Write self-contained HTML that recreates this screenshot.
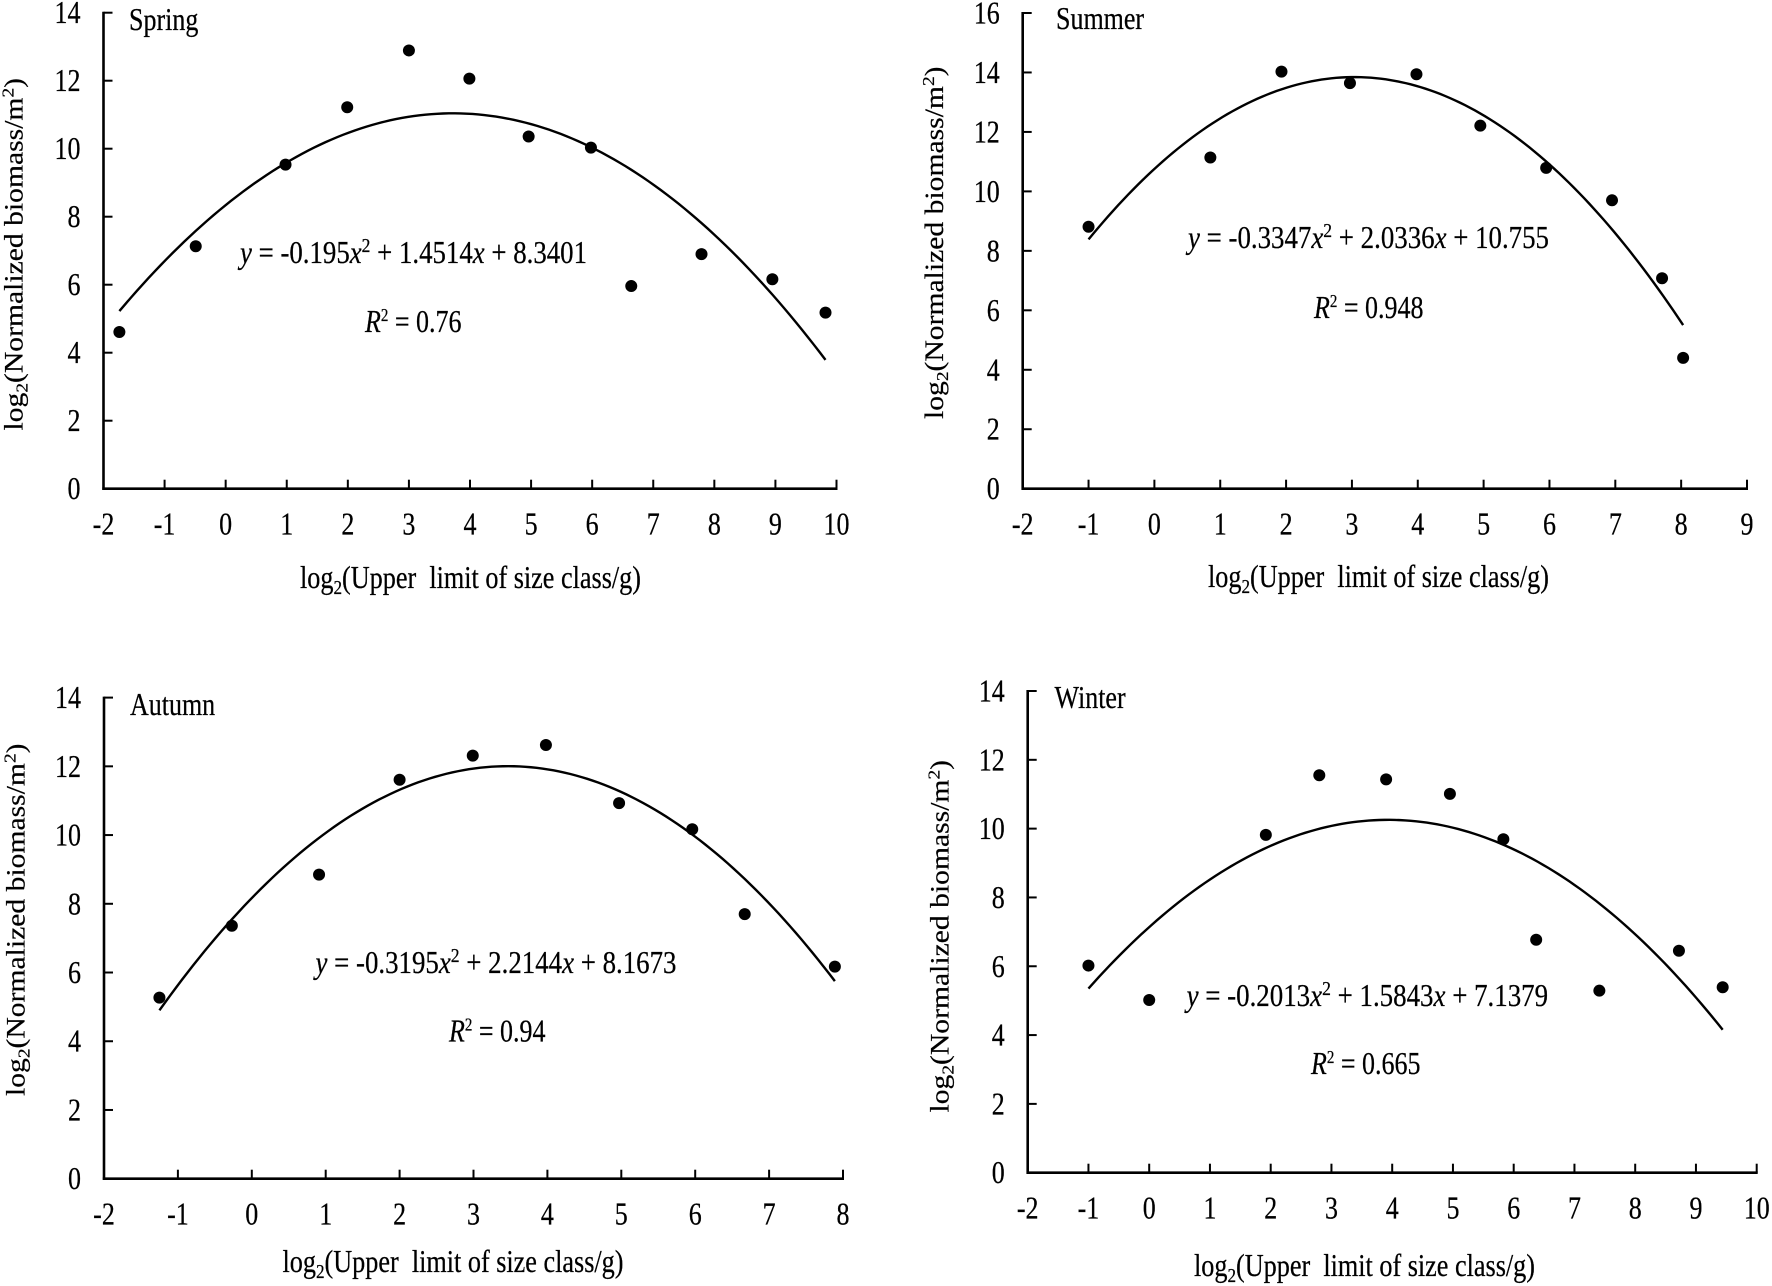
<!DOCTYPE html>
<html lang="en">
<head>
<meta charset="utf-8">
<title>Normalized biomass size spectra by season</title>
<style>
html,body{margin:0;padding:0;background:#fff;width:1772px;height:1286px;overflow:hidden}
svg{display:block}
text{font-family:"Liberation Serif","Times New Roman",serif;font-size:26px;fill:#000;stroke:#000;stroke-width:.2px}
.it{font-style:italic}
</style>
</head>
<body>
<svg id="figure" xmlns="http://www.w3.org/2000/svg" width="1772" height="1286" viewBox="0 0 1772 1286">
  <rect width="1772" height="1286" fill="#fff"/>

  <g id="spring">
    <text transform="translate(129,30) scale(1,1.2)">Spring</text>
    <text transform="translate(22.4,430.5) scale(1,1.14) rotate(-90)" xml:space="preserve">log<tspan font-size="17" dy="5">2</tspan><tspan dy="-5">(Normalized&#160;biomass/m</tspan><tspan font-size="17" dy="-9">2</tspan><tspan dy="9">)</tspan></text>
    <text transform="translate(300,588) scale(1,1.2)" xml:space="preserve" textLength="341" lengthAdjust="spacingAndGlyphs">log<tspan font-size="17" dy="5">2</tspan><tspan dy="-5">(Upper&#160; limit of size class/g)</tspan></text>
    <text transform="translate(240,263) scale(1,1.2)" textLength="347" lengthAdjust="spacingAndGlyphs"><tspan class="it">y</tspan> = -0.195<tspan class="it">x</tspan><tspan font-size="17" dy="-9">2</tspan><tspan dy="9"> + 1.4514</tspan><tspan class="it">x</tspan> + 8.3401</text>
    <text transform="translate(365,332) scale(1,1.2)"><tspan class="it">R</tspan><tspan font-size="15" dy="-9">2</tspan><tspan dy="9"> = 0.76</tspan></text>
  </g>

  <g id="summer">
    <text transform="translate(1056,29) scale(1,1.2)">Summer</text>
    <text transform="translate(943,419) scale(1,1.14) rotate(-90)" xml:space="preserve">log<tspan font-size="17" dy="5">2</tspan><tspan dy="-5">(Normalized&#160;biomass/m</tspan><tspan font-size="17" dy="-9">2</tspan><tspan dy="9">)</tspan></text>
    <text transform="translate(1208,587) scale(1,1.2)" xml:space="preserve" textLength="341" lengthAdjust="spacingAndGlyphs">log<tspan font-size="17" dy="5">2</tspan><tspan dy="-5">(Upper&#160; limit of size class/g)</tspan></text>
    <text transform="translate(1188,248) scale(1,1.2)" textLength="361" lengthAdjust="spacingAndGlyphs"><tspan class="it">y</tspan> = -0.3347<tspan class="it">x</tspan><tspan font-size="17" dy="-9">2</tspan><tspan dy="9"> + 2.0336</tspan><tspan class="it">x</tspan> + 10.755</text>
    <text transform="translate(1314,318) scale(1,1.2)"><tspan class="it">R</tspan><tspan font-size="15" dy="-9">2</tspan><tspan dy="9"> = 0.948</tspan></text>
  </g>

  <g id="autumn">
    <text transform="translate(130,715) scale(1,1.2)">Autumn</text>
    <text transform="translate(24.4,1096) scale(1,1.14) rotate(-90)" xml:space="preserve">log<tspan font-size="17" dy="5">2</tspan><tspan dy="-5">(Normalized&#160;biomass/m</tspan><tspan font-size="17" dy="-9">2</tspan><tspan dy="9">)</tspan></text>
    <text transform="translate(282.5,1272) scale(1,1.2)" xml:space="preserve" textLength="341" lengthAdjust="spacingAndGlyphs">log<tspan font-size="17" dy="5">2</tspan><tspan dy="-5">(Upper&#160; limit of size class/g)</tspan></text>
    <text transform="translate(315.5,973) scale(1,1.2)" textLength="361" lengthAdjust="spacingAndGlyphs"><tspan class="it">y</tspan> = -0.3195<tspan class="it">x</tspan><tspan font-size="17" dy="-9">2</tspan><tspan dy="9"> + 2.2144</tspan><tspan class="it">x</tspan> + 8.1673</text>
    <text transform="translate(449,1041.5) scale(1,1.2)"><tspan class="it">R</tspan><tspan font-size="15" dy="-9">2</tspan><tspan dy="9"> = 0.94</tspan></text>
  </g>

  <g id="winter">
    <text transform="translate(1054.5,708) scale(1,1.2)">Winter</text>
    <text transform="translate(948.7,1112.5) scale(1,1.14) rotate(-90)" xml:space="preserve">log<tspan font-size="17" dy="5">2</tspan><tspan dy="-5">(Normalized&#160;biomass/m</tspan><tspan font-size="17" dy="-9">2</tspan><tspan dy="9">)</tspan></text>
    <text transform="translate(1194,1276) scale(1,1.2)" xml:space="preserve" textLength="341" lengthAdjust="spacingAndGlyphs">log<tspan font-size="17" dy="5">2</tspan><tspan dy="-5">(Upper&#160; limit of size class/g)</tspan></text>
    <text transform="translate(1186.6,1006) scale(1,1.2)" textLength="361.5" lengthAdjust="spacingAndGlyphs"><tspan class="it">y</tspan> = -0.2013<tspan class="it">x</tspan><tspan font-size="17" dy="-9">2</tspan><tspan dy="9"> + 1.5843</tspan><tspan class="it">x</tspan> + 7.1379</text>
    <text transform="translate(1311,1074) scale(1,1.2)"><tspan class="it">R</tspan><tspan font-size="15" dy="-9">2</tspan><tspan dy="9"> = 0.665</tspan></text>
  </g>
</svg>

<script>
// Spring data
var springSizeClass = [-1.74, -0.49, 0.98, 1.99, 3.0, 3.99, 4.96, 5.98, 6.64, 7.79, 8.95, 9.82];
var springBiomass = [4.61, 7.13, 9.53, 11.22, 12.89, 12.06, 10.36, 10.03, 5.96, 6.90, 6.16, 5.18];
var springFit = [-0.195, 1.4514, 8.3401];
var springXTicks = [-2, -1, 0, 1, 2, 3, 4, 5, 6, 7, 8, 9, 10];
var springYTicks = [0, 2, 4, 6, 8, 10, 12, 14];

// Summer data
var summerSizeClass = [-1.0, 0.85, 1.93, 2.97, 3.98, 4.95, 5.95, 6.95, 7.71, 8.03];
var summerBiomass = [8.81, 11.14, 14.03, 13.64, 13.94, 12.21, 10.79, 9.70, 7.08, 4.40];
var summerFit = [-0.3347, 2.0336, 10.755];
var summerXTicks = [-2, -1, 0, 1, 2, 3, 4, 5, 6, 7, 8, 9];
var summerYTicks = [0, 2, 4, 6, 8, 10, 12, 14, 16];

// Autumn data
var autumnSizeClass = [-1.25, -0.27, 0.91, 2.0, 2.99, 3.98, 4.97, 5.96, 6.67, 7.89];
var autumnBiomass = [5.27, 7.36, 8.85, 11.61, 12.31, 12.62, 10.93, 10.17, 7.70, 6.17];
var autumnFit = [-0.3195, 2.2144, 8.1673];
var autumnXTicks = [-2, -1, 0, 1, 2, 3, 4, 5, 6, 7, 8];
var autumnYTicks = [0, 2, 4, 6, 8, 10, 12, 14];

// Winter data
var winterSizeClass = [-1.0, 0.0, 1.92, 2.80, 3.90, 4.95, 5.83, 6.37, 7.41, 8.72, 9.44];
var winterBiomass = [6.02, 5.02, 9.82, 11.55, 11.43, 11.01, 9.69, 6.77, 5.29, 6.45, 5.39];
var winterFit = [-0.2013, 1.5843, 7.1379];
var winterXTicks = [-2, -1, 0, 1, 2, 3, 4, 5, 6, 7, 8, 9, 10];
var winterYTicks = [0, 2, 4, 6, 8, 10, 12, 14];

var NS = 'http://www.w3.org/2000/svg';

function svgEl(tag, parent, attrs) {
  var el = document.createElementNS(NS, tag);
  for (var k in attrs) { el.setAttribute(k, attrs[k]); }
  parent.appendChild(el);
  return el;
}

function drawPanel(id, box, xs, ys, fit, xTicks, yTicks) {
  var g = document.getElementById(id);
  var xMin = xTicks[0], xMax = xTicks[xTicks.length - 1];
  var yMin = yTicks[0], yMax = yTicks[yTicks.length - 1];
  function sx(v) { return box.left + (v - xMin) / (xMax - xMin) * (box.right - box.left); }
  function sy(v) { return box.bottom - (v - yMin) / (yMax - yMin) * (box.bottom - box.top); }

  var yAxis = svgEl('line', g, {x1: sx(xMin), x2: sx(xMin), y1: sy(yMax) - 1, y2: sy(yMin) + 1.2, stroke: '#000', 'stroke-width': 2.6});
  
  

  var xAxis = svgEl('line', g, {x1: sx(xMin) - 1.2, x2: sx(xMax) + 1, y1: sy(yMin), y2: sy(yMin), stroke: '#000', 'stroke-width': 2.6});
  
  

  xTicks.forEach(function (t) {
    var tick = svgEl('line', g, {x1: sx(t), x2: sx(t), y1: sy(yMin), y2: sy(yMin) - 9, stroke: '#000', 'stroke-width': 2});
    
    
    var lab = svgEl('text', g, {'text-anchor': 'middle', transform: 'translate(' + sx(t) + ',' + (sy(yMin) + 46) + ') scale(1,1.2)'});
    lab.textContent = String(t);
    
    
  });

  yTicks.forEach(function (t) {
    var tick = svgEl('line', g, {x1: sx(xMin), x2: sx(xMin) + 9, y1: sy(t), y2: sy(t), stroke: '#000', 'stroke-width': 2});
    
    
    var lab = svgEl('text', g, {'text-anchor': 'end', transform: 'translate(' + (sx(xMin) - 23) + ',' + (sy(t) + 10.5) + ') scale(1,1.2)'});
    lab.textContent = String(t);
    
    
  });

  // Trend line evaluated from the printed regression coefficients over the span of the points
  var start = Math.min.apply(null, xs), end = Math.max.apply(null, xs), d = '';
  for (var i = 0; i <= 120; i++) {
    var x = start + (end - start) * i / 120;
    var y = fit[0] * x * x + fit[1] * x + fit[2];
    d += (i ? 'L' : 'M') + sx(x).toFixed(2) + ' ' + sy(y).toFixed(2);
  }
  var curve = svgEl('path', g, {d: d, fill: 'none', stroke: '#000', 'stroke-width': 2.4});
  
  

  xs.forEach(function (x, i) {
    var dot = svgEl('circle', g, {cx: sx(x), cy: sy(ys[i]), r: 6, fill: '#000'});
    
    
  });
}

drawPanel('spring', {left: 103.5, right: 836.5, top: 12.7, bottom: 488.7}, springSizeClass, springBiomass, springFit, springXTicks, springYTicks);
drawPanel('summer', {left: 1022.7, right: 1747, top: 13, bottom: 488.7}, summerSizeClass, summerBiomass, summerFit, summerXTicks, summerYTicks);
drawPanel('autumn', {left: 104, right: 843, top: 697.6, bottom: 1178.7}, autumnSizeClass, autumnBiomass, autumnFit, autumnXTicks, autumnYTicks);
drawPanel('winter', {left: 1027.7, right: 1756.7, top: 691, bottom: 1172.7}, winterSizeClass, winterBiomass, winterFit, winterXTicks, winterYTicks);
</script>
</body>
</html>
